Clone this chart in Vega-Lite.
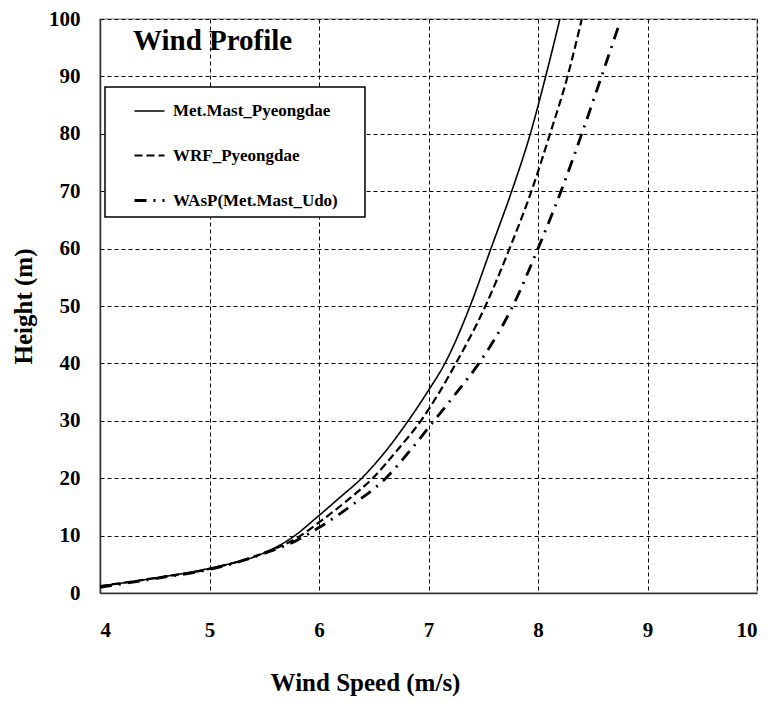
{
  "$schema": "https://vega.github.io/schema/vega-lite/v6.json",
  "width": 657,
  "height": 574,
  "autosize": {"type": "none"},
  "padding": {"left": 100, "top": 19, "right": 12, "bottom": 109},
  "background": "white",
  "title": {
    "text": "Wind Profile",
    "anchor": "start",
    "frame": "group",
    "orient": "top",
    "offset": 0,
    "dx": 33,
    "dy": 71,
    "baseline": "alphabetic",
    "font": "Liberation Serif",
    "fontSize": 29,
    "fontWeight": "bold",
    "color": "black"
  },
  "data": {
    "values": [
      {"series": "Met.Mast_Pyeongdae", "speed": 4.0, "height": 1.2},
      {"series": "Met.Mast_Pyeongdae", "speed": 4.5, "height": 2.6},
      {"series": "Met.Mast_Pyeongdae", "speed": 5.0, "height": 4.3},
      {"series": "Met.Mast_Pyeongdae", "speed": 5.5, "height": 7.0},
      {"series": "Met.Mast_Pyeongdae", "speed": 5.75, "height": 9.6},
      {"series": "Met.Mast_Pyeongdae", "speed": 6.0, "height": 13.5},
      {"series": "Met.Mast_Pyeongdae", "speed": 6.2, "height": 16.8},
      {"series": "Met.Mast_Pyeongdae", "speed": 6.39, "height": 20.0},
      {"series": "Met.Mast_Pyeongdae", "speed": 6.6, "height": 24.5},
      {"series": "Met.Mast_Pyeongdae", "speed": 6.8, "height": 29.6},
      {"series": "Met.Mast_Pyeongdae", "speed": 7.0, "height": 35.3},
      {"series": "Met.Mast_Pyeongdae", "speed": 7.15, "height": 40.0},
      {"series": "Met.Mast_Pyeongdae", "speed": 7.38, "height": 50.0},
      {"series": "Met.Mast_Pyeongdae", "speed": 7.57, "height": 60.0},
      {"series": "Met.Mast_Pyeongdae", "speed": 7.76, "height": 70.0},
      {"series": "Met.Mast_Pyeongdae", "speed": 7.93, "height": 80.0},
      {"series": "Met.Mast_Pyeongdae", "speed": 8.07, "height": 90.0},
      {"series": "Met.Mast_Pyeongdae", "speed": 8.2, "height": 100.0},
      {"series": "WRF_Pyeongdae", "speed": 4.0, "height": 1.2},
      {"series": "WRF_Pyeongdae", "speed": 4.5, "height": 2.6},
      {"series": "WRF_Pyeongdae", "speed": 5.0, "height": 4.2},
      {"series": "WRF_Pyeongdae", "speed": 5.5, "height": 7.0},
      {"series": "WRF_Pyeongdae", "speed": 5.8, "height": 9.6},
      {"series": "WRF_Pyeongdae", "speed": 6.0, "height": 12.3},
      {"series": "WRF_Pyeongdae", "speed": 6.25, "height": 16.0},
      {"series": "WRF_Pyeongdae", "speed": 6.49, "height": 20.0},
      {"series": "WRF_Pyeongdae", "speed": 6.72, "height": 25.0},
      {"series": "WRF_Pyeongdae", "speed": 6.93, "height": 30.0},
      {"series": "WRF_Pyeongdae", "speed": 7.1, "height": 35.0},
      {"series": "WRF_Pyeongdae", "speed": 7.25, "height": 40.0},
      {"series": "WRF_Pyeongdae", "speed": 7.52, "height": 50.0},
      {"series": "WRF_Pyeongdae", "speed": 7.74, "height": 60.0},
      {"series": "WRF_Pyeongdae", "speed": 7.94, "height": 70.0},
      {"series": "WRF_Pyeongdae", "speed": 8.11, "height": 80.0},
      {"series": "WRF_Pyeongdae", "speed": 8.27, "height": 90.0},
      {"series": "WRF_Pyeongdae", "speed": 8.4, "height": 100.0},
      {"series": "WAsP(Met.Mast_Udo)", "speed": 4.0, "height": 1.0},
      {"series": "WAsP(Met.Mast_Udo)", "speed": 4.5, "height": 2.5},
      {"series": "WAsP(Met.Mast_Udo)", "speed": 5.0, "height": 4.1},
      {"series": "WAsP(Met.Mast_Udo)", "speed": 5.5, "height": 6.9},
      {"series": "WAsP(Met.Mast_Udo)", "speed": 5.8, "height": 9.2},
      {"series": "WAsP(Met.Mast_Udo)", "speed": 6.0, "height": 11.4},
      {"series": "WAsP(Met.Mast_Udo)", "speed": 6.3, "height": 15.3},
      {"series": "WAsP(Met.Mast_Udo)", "speed": 6.61, "height": 20.0},
      {"series": "WAsP(Met.Mast_Udo)", "speed": 6.84, "height": 25.0},
      {"series": "WAsP(Met.Mast_Udo)", "speed": 7.05, "height": 30.0},
      {"series": "WAsP(Met.Mast_Udo)", "speed": 7.26, "height": 35.0},
      {"series": "WAsP(Met.Mast_Udo)", "speed": 7.46, "height": 40.0},
      {"series": "WAsP(Met.Mast_Udo)", "speed": 7.77, "height": 50.0},
      {"series": "WAsP(Met.Mast_Udo)", "speed": 8.0, "height": 60.0},
      {"series": "WAsP(Met.Mast_Udo)", "speed": 8.21, "height": 70.0},
      {"series": "WAsP(Met.Mast_Udo)", "speed": 8.4, "height": 80.0},
      {"series": "WAsP(Met.Mast_Udo)", "speed": 8.58, "height": 90.0},
      {"series": "WAsP(Met.Mast_Udo)", "speed": 8.74, "height": 99.0}
    ]
  },
  "mark": {"type": "line", "interpolate": "monotone", "color": "black"},
  "encoding": {
    "x": {
      "field": "speed",
      "type": "quantitative",
      "title": "Wind Speed (m/s)",
      "scale": {"domain": [4, 10], "nice": false, "zero": false},
      "axis": {"values": [4, 5, 6, 7, 8, 9, 10], "labelPadding": 26, "titlePadding": 30, "titleX": 265, "format": "d"}
    },
    "y": {
      "field": "height",
      "type": "quantitative",
      "title": "Height (m)",
      "scale": {"domain": [0, 100], "nice": false},
      "axis": {"values": [0, 10, 20, 30, 40, 50, 60, 70, 80, 90, 100], "labelPadding": 20, "titlePadding": 12, "format": "d"}
    },
    "strokeDash": {
      "field": "series",
      "type": "nominal",
      "scale": {
        "domain": ["Met.Mast_Pyeongdae", "WRF_Pyeongdae", "WAsP(Met.Mast_Udo)"],
        "range": [[1, 0], [8, 4], [12, 7, 2, 7]]
      },
      "legend": {"title": "\u00a0", "titleOrient": "right", "titlePadding": 19}
    },
    "strokeWidth": {
      "field": "series",
      "type": "nominal",
      "scale": {
        "domain": ["Met.Mast_Pyeongdae", "WRF_Pyeongdae", "WAsP(Met.Mast_Udo)"],
        "range": [1.6, 2.8, 2.8]
      },
      "legend": {"title": "\u00a0", "titleOrient": "right", "titlePadding": 19}
    }
  },
  "config": {
    "view": {"stroke": "#a8a8a8", "strokeWidth": 1.5},
    "axis": {
      "labelFont": "Liberation Serif",
      "labelFontWeight": "bold",
      "labelFontSize": 21,
      "labelColor": "black",
      "titleFont": "Liberation Serif",
      "titleFontWeight": "bold",
      "titleFontSize": 25,
      "titleColor": "black",
      "grid": true,
      "gridColor": "black",
      "gridDash": [4, 3],
      "gridWidth": 1,
      "gridOpacity": 1,
      "ticks": false,
      "domainColor": "#333333",
      "domainWidth": 1.5
    },
    "legend": {
      "orient": "none",
      "legendX": 5,
      "legendY": 68,
      "fillColor": "white",
      "strokeColor": "black",
      "strokeWidth": 1.5,
      "padding": 8,
      "symbolOffset": 20,
      "rowPadding": 20,
      "symbolType": "stroke",
      "symbolSize": 900,
      "symbolStrokeColor": "black",
      "labelFont": "Liberation Serif",
      "labelFontWeight": "bold",
      "labelFontSize": 17,
      "labelColor": "black",
      "labelOffset": 7,
      "labelLimit": 400,
      "titleFontSize": 10
    }
  }
}
